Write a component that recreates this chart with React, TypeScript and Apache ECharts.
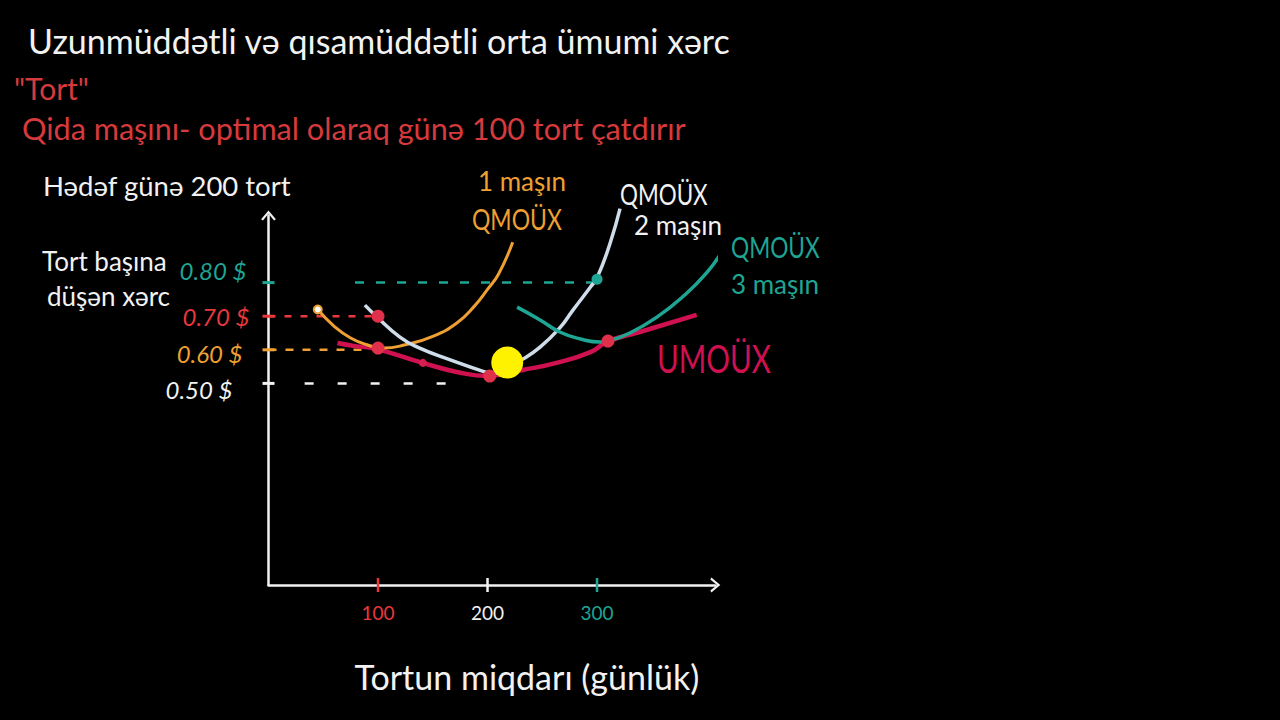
import React, { useEffect, useRef } from "react";
import * as echarts from "echarts";

// ---- data ----
const X_TICKS = [100, 200, 300];
const X_TICK_LABELS = ["100", "200", "300"];
const Y_TICKS = [0.5, 0.6, 0.7, 0.8];
const Y_TICK_LABELS = ["0.50 $", "0.60 $", "0.70 $", "0.80 $"];

const SRATC_1: [number, number][] = [
  [45, 0.72], [60, 0.67], [75, 0.635], [90, 0.615], [105, 0.605], [125, 0.615],
  [150, 0.64], [172, 0.68], [188, 0.73], [200, 0.78], [210, 0.825], [223, 0.92],
];
const SRATC_2: [number, number][] = [
  [88, 0.733], [99, 0.698], [120, 0.638], [136, 0.608], [166, 0.57], [196, 0.536],
  [205, 0.53], [218, 0.55], [232, 0.572], [248, 0.608], [266, 0.665], [278, 0.718],
  [294, 0.787], [300, 0.814], [312, 0.918], [321, 1.02],
];
const SRATC_3: [number, number][] = [
  [227, 0.727], [248, 0.689], [266, 0.653], [285, 0.632], [303, 0.623], [310, 0.626],
  [330, 0.65], [355, 0.698], [378, 0.757], [400, 0.829], [415, 0.897],
];
const LRATC: [number, number][] = [
  [63, 0.62], [79, 0.611], [95, 0.605], [141, 0.561], [172, 0.534], [200, 0.522],
  [232, 0.54], [263, 0.561], [294, 0.593], [310, 0.625], [339, 0.653], [391, 0.704],
];
const RED_DOTS: [number, number][] = [[100, 0.7], [100, 0.605], [202, 0.522], [310, 0.626]];
const SMALL_DOTS: [number, number][] = [[141, 0.561]];
const TEAL_DOT: [number, number][] = [[300, 0.81]];
const OPTIMUM: [number, number][] = [[218, 0.562]];
const START_1: [number, number][] = [[45, 0.72]];

const GUIDE_080: [number, number][] = [[79, 0.8], [300, 0.8]];
const GUIDE_070: [number, number][] = [[0, 0.7], [100, 0.7]];
const GUIDE_060: [number, number][] = [[0, 0.6], [92, 0.6]];
const GUIDE_050: [number, number][] = [[33, 0.5], [162, 0.5]];

// ---- styles ----
const WHITE = "#f2f2f2";
const CURVE_WHITE = "#cfdcea";
const ORANGE = "#eea032";
const TEAL = "#1fa593";
const RED = "#e8383c";
const CRIMSON = "#cf1150";
const TITLE_RED = "#d63a3c";
const YELLOW = "#fff200";
const FONT = "Lato";

const X_MIN = 0;
const X_MAX = 408;
const Y_MIN = -0.1;
const Y_MAX = 1.0;

const X_TICK_COLORS = [RED, WHITE, TEAL];
const Y_TICK_COLORS = [WHITE, ORANGE, RED, TEAL];

function txt(text: string, x: number, y: number, size: number, color: string, scaleX = 1) {
  return {
    type: "text",
    x,
    y,
    scaleX,
    style: {
      text,
      fill: color,
      font: `${size}px ${FONT}`,
      textAlign: "left",
      textVerticalAlign: "middle",
    },
  };
}

export default function App() {
  const ref = useRef<HTMLDivElement>(null);

  useEffect(() => {
    if (!ref.current) return;
    const chart = echarts.init(ref.current, null, { renderer: "svg" });

    const yRich: any = {};
    const yPad: any = {
      w: [12, 18, 0, 0],
      o: [8, 8, 0, 0],
      r: [0, 1, 0, 0],
      t: [0, 4, 25, 0],
    };
    const yKeys = ["w", "o", "r", "t"];
    yKeys.forEach((k, i) => {
      yRich[k] = {
        color: Y_TICK_COLORS[i],
        fontFamily: FONT,
        fontStyle: "italic",
        fontSize: 24,
        padding: yPad[k],
      };
    });
    const xRich: any = {};
    ["a", "b", "c"].forEach((k, i) => {
      xRich[k] = { color: X_TICK_COLORS[i], fontFamily: FONT, fontSize: 19 };
    });

    const chevron = "path://M0,12 L10,0 L20,12 L17.5,13.5 L10,4.5 L2.5,13.5 Z";

    const option: any = {
      animation: false,
      backgroundColor: "#000000",
      grid: { left: 268.5, top: 215.4, width: 446.8, height: 369.6 },
      xAxis: {
        type: "value",
        min: X_MIN,
        max: X_MAX,
        interval: 100,
        splitLine: { show: false },
        axisTick: { show: false },
        axisLine: {
          show: true,
          onZero: false,
          lineStyle: { color: WHITE, width: 2.5 },
          symbol: ["none", chevron],
          symbolSize: [16, 10],
        },
        axisLabel: {
          margin: 18,
          showMaxLabel: false,
          formatter: (v: number) => {
            const i = X_TICKS.indexOf(Math.round(v));
            return i >= 0 ? `{${["a", "b", "c"][i]}|${X_TICK_LABELS[i]}}` : "";
          },
          rich: xRich,
        },
        name: "Tortun miqdarı (günlük)",
        nameLocation: "middle",
        nameGap: 74,
        nameTextStyle: { color: WHITE, fontFamily: FONT, fontSize: 34, padding: [0, 0, 0, 70] },
      },
      yAxis: {
        type: "value",
        min: Y_MIN,
        max: Y_MAX,
        interval: 0.1,
        splitLine: { show: false },
        axisTick: { show: false },
        axisLine: {
          show: true,
          onZero: false,
          lineStyle: { color: WHITE, width: 2.5 },
          symbol: ["none", chevron],
          symbolSize: [16, 10],
        },
        axisLabel: {
          margin: 18,
          formatter: (v: number) => {
            const i = Y_TICKS.findIndex((t) => Math.abs(t - v) < 1e-6);
            return i >= 0 ? `{${yKeys[i]}|${Y_TICK_LABELS[i]}}` : "";
          },
          rich: yRich,
        },
      },
      graphic: [
        txt("Uzunmüddətli və qısamüddətli orta ümumi xərc", 28, 40, 34, WHITE),
        txt("\"Tort\"", 14, 88, 30, TITLE_RED),
        txt("Qida maşını- optimal olaraq günə 100 tort çatdırır", 22, 128, 30.6, TITLE_RED),
        txt("Hədəf günə 200 tort", 43, 185, 27.5, WHITE),
        txt("Tort başına", 42, 261, 26, WHITE),
        txt("düşən xərc", 47, 296, 26, WHITE),
        txt("1 maşın", 478, 181, 26, ORANGE),
        txt("QMOÜX", 472, 219, 28, ORANGE, 0.82),
        txt("QMOÜX", 620, 194, 28, WHITE, 0.8),
        txt("2 maşın", 634, 225, 26, WHITE),
        txt("QMOÜX", 731, 247, 28, TEAL, 0.81),
        txt("3 maşın", 731, 284, 26, TEAL),
        txt("UMOÜX", 657, 358, 38, CRIMSON, 0.78),
      ],
      series: [
        // guide lines
        { type: "line", data: GUIDE_080, symbol: "none", lineStyle: { color: TEAL, width: 2.5, type: [9, 12] }, z: 2 },
        { type: "line", data: GUIDE_070, symbol: "none", lineStyle: { color: RED, width: 2.5, type: [7, 9] }, z: 2 },
        { type: "line", data: GUIDE_060, symbol: "none", lineStyle: { color: ORANGE, width: 2.5, type: [8, 9] }, z: 2 },
        { type: "line", data: GUIDE_050, symbol: "none", lineStyle: { color: WHITE, width: 2.5, type: [9, 24] }, z: 2 },
        // y-axis tick marks
        {
          type: "scatter",
          data: Y_TICKS.map((t, i) => ({ value: [X_MIN, t], itemStyle: { color: Y_TICK_COLORS[i], opacity: 1 } })),
          symbol: "rect",
          symbolSize: [12, 3],
          clip: false,
          z: 3,
        },
        // x-axis tick marks
        {
          type: "scatter",
          data: X_TICKS.map((t, i) => ({ value: [t, Y_MIN], itemStyle: { color: X_TICK_COLORS[i], opacity: 1 } })),
          symbol: "rect",
          symbolSize: [2.5, 14],
          clip: false,
          z: 3,
        },
        // curves
        { type: "line", data: LRATC, smooth: 0.5, symbol: "none", clip: false, lineStyle: { color: CRIMSON, width: 4.5 }, z: 4 },
        { type: "line", data: SRATC_1, smooth: 0.5, symbol: "none", clip: false, lineStyle: { color: ORANGE, width: 3 }, z: 5 },
        { type: "line", data: SRATC_2, smooth: 0.5, symbol: "none", clip: false, lineStyle: { color: CURVE_WHITE, width: 3.5 }, z: 5 },
        { type: "line", data: SRATC_3, smooth: 0.5, symbol: "none", clip: false, lineStyle: { color: TEAL, width: 3.5 }, z: 5 },
        // points
        { type: "scatter", data: START_1, symbol: "emptyCircle", symbolSize: 8, itemStyle: { color: ORANGE, borderColor: ORANGE, borderWidth: 2.5, opacity: 1 }, z: 6 },
        { type: "scatter", data: RED_DOTS, symbolSize: 13, itemStyle: { color: "#e0304a", opacity: 1 }, z: 6 },
        { type: "scatter", data: SMALL_DOTS, symbolSize: 8, itemStyle: { color: "#d41f50", opacity: 1 }, z: 6 },
        { type: "scatter", data: TEAL_DOT, symbolSize: 11, itemStyle: { color: TEAL, opacity: 1 }, z: 6 },
        { type: "scatter", data: OPTIMUM, symbolSize: 32, itemStyle: { color: YELLOW, opacity: 1 }, z: 7 },
      ],
    };

    chart.setOption(option);
    return () => chart.dispose();
  }, []);

  return (
    <div
      ref={ref}
      style={{ position: "fixed", left: 0, top: 0, width: 1280, height: 720, background: "#000" }}
    />
  );
}
